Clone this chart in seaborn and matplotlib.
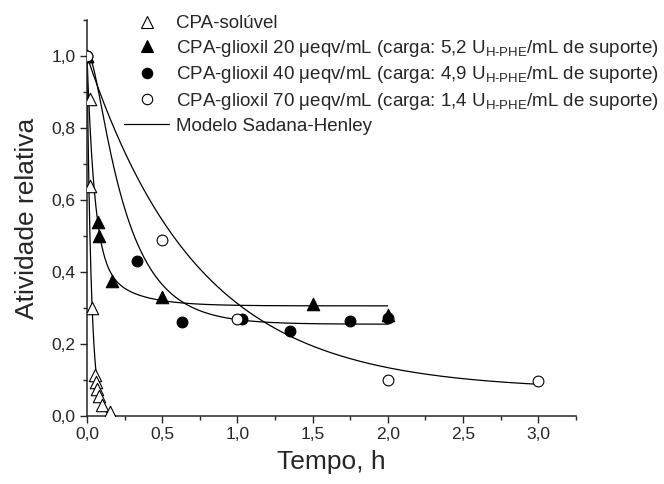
import numpy as np
import pandas as pd
import seaborn as sns
import matplotlib.pyplot as plt
from matplotlib.lines import Line2D
from matplotlib.ticker import MultipleLocator, FuncFormatter

# measured points (time in h, relative activity)
t_soluvel = [0, 0.017, 0.017, 0.033, 0.05, 0.058, 0.067, 0.083, 0.1, 0.15]
a_soluvel = [1.0, 0.88, 0.64, 0.30, 0.115, 0.095, 0.075, 0.055, 0.03, 0.01]

t_gli20 = [0, 0.075, 0.083, 0.167, 0.5, 1.5, 2.0]
a_gli20 = [1.0, 0.54, 0.50, 0.375, 0.33, 0.31, 0.28]

t_gli40 = [0, 0.333, 0.633, 1.033, 1.35, 1.75, 2.0]
a_gli40 = [1.0, 0.43, 0.26, 0.27, 0.235, 0.265, 0.272]

t_gli70 = [0, 0.5, 1.0, 2.0, 3.0]
a_gli70 = [1.0, 0.49, 0.27, 0.10, 0.097]

# Sadana-Henley fitted parameters: k1, k2, alpha1, alpha2, last time of curve
fit_k1 = [35.0, 20.0, 23.0, 1.35]
fit_k2 = [1.0, 4.5, 4.3, 0.5]
fit_alpha1 = [0.0, 0.414, 1.025, 0.072]
fit_alpha2 = [0.0, 0.306, 0.255, 0.072]
fit_tend = [0.19, 2.0, 2.0, 3.0]

sub = '$_{\\mathregular{H\u2010PHE}}$'
labels = [
    'CPA-solúvel',
    'CPA-glioxil 20 μeqv/mL (carga: 5,2 U' + sub + '/mL de suporte)',
    'CPA-glioxil 40 μeqv/mL (carga: 4,9 U' + sub + '/mL de suporte)',
    'CPA-glioxil 70 μeqv/mL (carga: 1,4 U' + sub + '/mL de suporte)',
    'Modelo Sadana-Henley',
]


def sadana_henley(t, k1, k2, a1, a2):
    c = (a1 - a2) * k1 / (k2 - k1)
    return a2 + (1 - a2) * np.exp(-k1 * t) + c * (np.exp(-k1 * t) - np.exp(-k2 * t))


sns.set_style("ticks")
plt.rcParams['font.family'] = ['Liberation Sans', 'DejaVu Sans']
plt.rcParams['mathtext.fontset'] = 'custom'
plt.rcParams['mathtext.rm'] = 'Liberation Sans'

fig = plt.figure(figsize=(6.64, 4.84), dpi=100)
ax = fig.add_axes([0.131, 0.1405, 0.736, 0.818])

# model curves
for k1, k2, a1, a2, tend in zip(fit_k1, fit_k2, fit_alpha1, fit_alpha2, fit_tend):
    tt = np.linspace(0, tend, 400)
    df = pd.DataFrame({'t': tt, 'a': sadana_henley(tt, k1, k2, a1, a2)})
    sns.lineplot(data=df, x='t', y='a', color='black', lw=0.9, ax=ax,
                 estimator=None, sort=False, zorder=2)

# measured points
series = [
    (t_soluvel, a_soluvel, '^', 'white', 80),
    (t_gli20, a_gli20, '^', 'black', 80),
    (t_gli40, a_gli40, 'o', 'black', 60),
    (t_gli70, a_gli70, 'o', 'white', 60),
]
for t, a, m, fc, s in series:
    sns.scatterplot(x=t, y=a, marker=m, s=s, facecolor=fc, edgecolor='black',
                    linewidth=0.8, ax=ax, zorder=3)

ax.set_xlim(0, 3.25)
ax.set_ylim(0, 1.1)
ax.xaxis.set_major_locator(MultipleLocator(0.5))
ax.xaxis.set_minor_locator(MultipleLocator(0.25))
ax.yaxis.set_major_locator(MultipleLocator(0.2))
ax.yaxis.set_minor_locator(MultipleLocator(0.1))
fmt = FuncFormatter(lambda v, p: f'{v:.1f}'.replace('.', ','))
ax.xaxis.set_major_formatter(fmt)
ax.yaxis.set_major_formatter(fmt)
ax.tick_params(which='major', direction='out', length=5, width=1, labelsize=12.5, pad=3)
ax.tick_params(which='minor', direction='out', length=3, width=1)
sns.despine(ax=ax)
for sp in ax.spines.values():
    sp.set_linewidth(1.1)

ax.set_xlabel('Tempo, h', fontsize=19, labelpad=6)
ax.set_ylabel('Atividade relativa', fontsize=19, labelpad=9)

handles = [
    Line2D([], [], ls='none', marker='^', ms=9, mfc='white', mec='black', mew=0.8),
    Line2D([], [], ls='none', marker='^', ms=9, mfc='black', mec='black', mew=0.8),
    Line2D([], [], ls='none', marker='o', ms=7.5, mfc='black', mec='black', mew=0.8),
    Line2D([], [], ls='none', marker='o', ms=7.5, mfc='white', mec='black', mew=0.8),
    Line2D([], [], color='black', lw=0.9),
]
fig.legend(handles, labels, loc='upper left', bbox_to_anchor=(124 / 664, 1 - 15 / 484),
           bbox_transform=fig.transFigure, frameon=False, fontsize=13.5,
           borderpad=0, borderaxespad=0, labelspacing=0.3, handlelength=2.4,
           handletextpad=0.35)

plt.savefig('out.png', dpi=100)
